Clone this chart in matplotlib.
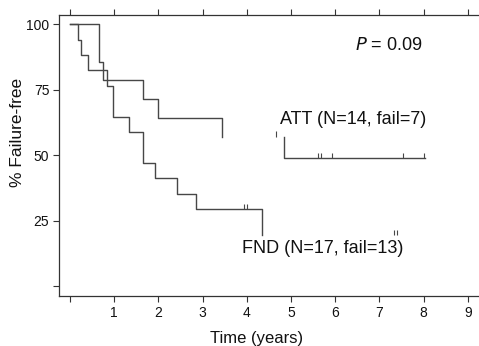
import matplotlib
matplotlib.use("Agg")
import matplotlib.pyplot as plt

plt.rcParams['font.family'] = ['Liberation Sans', 'DejaVu Sans']

# Kaplan-Meier steps (time in years, % failure-free)
# each piece: level before first drop, drop times, levels after drops, start, end
att_pieces = [
    (100, [0.66, 0.75, 1.66, 1.98, 3.43], [85.7, 78.6, 71.4, 64.3, 57.1], 0.0, 3.43),
    (57.1, [4.84], [49.0], 4.84, 8.03),
]
att_cens_t = [4.67, 5.62, 5.67, 5.93, 7.54, 8.02]
att_cens_s = [57.1, 49.0, 49.0, 49.0, 49.0, 49.0]

fnd_pieces = [
    (100, [0.17, 0.25, 0.41, 0.83, 0.98, 1.34, 1.66, 1.92, 2.41, 2.84, 4.35],
     [94.1, 88.2, 82.4, 76.5, 64.7, 58.8, 47.1, 41.2, 35.3, 29.4, 19.6], 0.0, 4.35),
]
fnd_cens_t = [3.94, 4.0, 7.33, 7.39]
fnd_cens_s = [29.4, 29.4, 19.6, 19.6]

xticks = list(range(10))
xlabels = [''] + [str(i) for i in range(1, 10)]
yticks = [0, 25, 50, 75, 100]
ylabels = ['', '25', '50', '75', '100']

W, H = 479, 346
fig = plt.figure(figsize=(W / 100, H / 100), dpi=100)
ax = fig.add_axes([59 / W, 50 / H, 422 / W, 281 / H])

lc = '#474747'
def km(s0, t, s, start, end):
    xs, ys = [start], [s0]
    prev = s0
    for ti, si in zip(t, s):
        xs += [ti, ti]
        ys += [prev, si]
        prev = si
    xs.append(end)
    ys.append(prev)
    return xs, ys

for p in att_pieces + fnd_pieces:
    xs, ys = km(*p)
    ax.plot(xs, ys, color=lc, lw=1.0)
ax.vlines(att_cens_t, att_cens_s, [v + 2 for v in att_cens_s], color=lc, lw=0.8)
ax.vlines(fnd_cens_t, fnd_cens_s, [v + 2 for v in fnd_cens_s], color=lc, lw=0.8)

ax.set_xlim(-0.25, 9.3)
ax.set_ylim(-3.8, 103.6)
ax.set_xticks(xticks)
ax.set_xticklabels(xlabels)
ax.set_yticks(yticks)
ax.set_yticklabels(ylabels)
ax.tick_params(direction='out', length=4, width=0.8, colors='#333333', labelcolor='#111111',
               labelsize=10, top=True, pad=3)
for sp in ax.spines.values():
    sp.set_color('#333333')
    sp.set_linewidth(0.9)
ax.spines['right'].set_visible(False)

fig.text(18 / W, 1 - 132 / H, '% Failure-free', rotation=90, ha='center', va='center',
         fontsize=12.5, color='#111111')
fig.text(257 / W, 1 - 338 / H, 'Time (years)', ha='center', va='center',
         fontsize=12, color='#111111')

ax.text(4.75, 63.8, 'ATT (N=14, fail=7)', fontsize=13, color='#111111', va='center')
ax.text(3.9, 14.5, 'FND (N=17, fail=13)', fontsize=13, color='#111111', va='center')
ax.text(6.44, 92, '$P$ = 0.09', fontsize=13, color='#111111', va='center')

fig.savefig('out.png', dpi=100)
